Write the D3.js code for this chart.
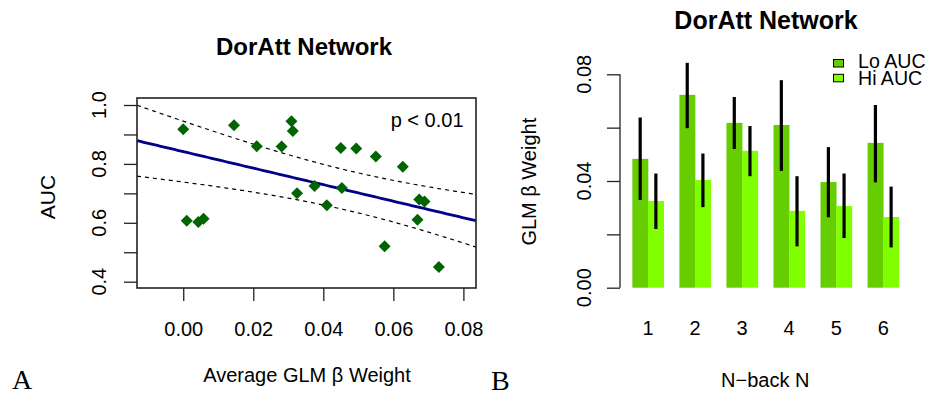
<!DOCTYPE html>
<html>
<head>
<meta charset="utf-8">
<script src="https://cdn.jsdelivr.net/npm/d3@7"></script>
<style>
  html, body { margin: 0; padding: 0; background: #fff; }
  svg { display: block; }
  text { font-family: "Liberation Sans", Arial, Helvetica, sans-serif; fill: #000; }
  .serif { font-family: "Liberation Serif", "Times New Roman", serif; }
</style>
</head>
<body>
<svg id="chart" width="932" height="394"></svg>
<script>
// ---- Panel A: per-subject average GLM beta weight vs AUC ----
const betaWeight = [0.0000, 0.0145, 0.0309, 0.0313, 0.0210, 0.0281, 0.0450, 0.0494, 0.0550, 0.0627,
                    0.0375, 0.0453, 0.0325, 0.0410, 0.0674, 0.0689, 0.0669, 0.0010, 0.0043, 0.0058,
                    0.0575, 0.0730];
const auc = [0.918, 0.931, 0.945, 0.912, 0.860, 0.859, 0.854, 0.852, 0.825, 0.790,
             0.725, 0.718, 0.700, 0.660, 0.679, 0.672, 0.610, 0.607, 0.603, 0.614,
             0.520, 0.450];
// fitted regression line: [intercept, slope]
const fitCoef = [0.8418, -2.808];
// 95% confidence band half-width: sqrt(a + b * (x - center)^2) as [a, b, center]
const bandCoef = [0.0046, 2.665, 0.0478];
const xTicksA = [0.00, 0.02, 0.04, 0.06, 0.08];
const yTicksA = [0.4, 0.5, 0.6, 0.7, 0.8, 0.9, 1.0];
const yLabelsA = [0.4, 0.6, 0.8, 1.0];
const pLabel = "p < 0.01";

// ---- Panel B: mean GLM beta weight per N-back level, by AUC group ----
const nBack = ["1", "2", "3", "4", "5", "6"];
const groups = ["Lo AUC", "Hi AUC"];
const loMean = [0.0483, 0.0723, 0.0618, 0.0610, 0.0396, 0.0543];
const loLow  = [0.0329, 0.0598, 0.0520, 0.0438, 0.0264, 0.0395];
const loHigh = [0.0638, 0.0843, 0.0715, 0.0778, 0.0527, 0.0685];
const hiMean = [0.0325, 0.0404, 0.0513, 0.0288, 0.0306, 0.0265];
const hiLow  = [0.0220, 0.0302, 0.0418, 0.0155, 0.0186, 0.0151];
const hiHigh = [0.0428, 0.0503, 0.0606, 0.0418, 0.0428, 0.0379];
const yTicksB = [0.00, 0.02, 0.04, 0.06, 0.08];
const yLabelsB = [0.00, 0.04, 0.08];
const groupColors = ["#66CD00", "#7FFF00"];

const svg = d3.select("#chart");
const fmt2 = d3.format(".2f"), fmt1 = d3.format(".1f");

// ================= Panel A =================
const xA = d3.scaleLinear().domain([-0.0132, 0.0836]).range([137, 476]);
const yA = d3.scaleLinear().domain([0.3786, 1.0238]).range([288, 98]);
const gA = svg.append("g");

const fit = v => fitCoef[0] + fitCoef[1] * v;
const half = v => Math.sqrt(bandCoef[0] + bandCoef[1] * (v - bandCoef[2]) ** 2);
const xs = d3.range(0, 101).map(i => xA.domain()[0] + (xA.domain()[1] - xA.domain()[0]) * i / 100);

gA.append("clipPath").attr("id", "clipA").append("rect")
  .attr("x", 137).attr("y", 98).attr("width", 339).attr("height", 190);
const inner = gA.append("g").attr("clip-path", "url(#clipA)");
const lineA = d3.line().x(d => xA(d[0])).y(d => yA(d[1]));

[v => fit(v) + half(v), v => fit(v) - half(v)].forEach(f => {
  inner.append("path").datum(xs.map(v => [v, f(v)])).attr("d", lineA)
    .attr("fill", "none").attr("stroke", "#000").attr("stroke-width", 1.2)
    .attr("stroke-dasharray", "4,4");
});
inner.append("path").datum(xs.map(v => [v, fit(v)])).attr("d", lineA)
  .attr("fill", "none").attr("stroke", "#00008B").attr("stroke-width", 2.8);

inner.selectAll("path.pt").data(betaWeight.map((v, i) => [v, auc[i]])).join("path")
  .attr("class", "pt")
  .attr("d", d3.symbol(d3.symbolSquare, 72))
  .attr("transform", d => `translate(${xA(d[0])},${yA(d[1])}) rotate(45)`)
  .attr("fill", "#006400");

gA.append("rect").attr("x", 137).attr("y", 98).attr("width", 339).attr("height", 190)
  .attr("fill", "none").attr("stroke", "#222").attr("stroke-width", 1.6);

// axes
const axBA = gA.append("g").attr("transform", "translate(0,288)")
  .call(d3.axisBottom(xA).tickValues(xTicksA).tickSize(13).tickPadding(22).tickFormat(fmt2));
axBA.select(".domain").remove();
axBA.selectAll("line").attr("stroke", "#222").attr("stroke-width", 1.3);
axBA.selectAll("text").attr("font-size", 20).attr("font-family", "Liberation Sans, Arial, sans-serif")
  .attr("dy", null).attr("y", 47.5);

const axLA = gA.append("g").attr("transform", "translate(137,0)")
  .call(d3.axisLeft(yA).tickValues(yTicksA).tickSize(13).tickFormat(() => ""));
axLA.select(".domain").remove();
axLA.selectAll("line").attr("stroke", "#222").attr("stroke-width", 1.3);
gA.selectAll("text.ylabA").data(yLabelsA).join("text").attr("class", "ylabA")
  .attr("transform", d => `translate(105.5,${yA(d)}) rotate(-90)`)
  .attr("text-anchor", "middle").attr("font-size", 20).text(fmt1);

gA.append("text").attr("x", 463.5).attr("y", 126.7).attr("text-anchor", "end")
  .attr("font-size", 20).text(pLabel);
gA.append("text").attr("x", 304).attr("y", 55).attr("text-anchor", "middle")
  .attr("font-size", 24).attr("font-weight", "bold").text("DorAtt Network");
gA.append("text").attr("x", 307).attr("y", 381.7).attr("text-anchor", "middle")
  .attr("font-size", 20).text("Average GLM β Weight");
gA.append("text").attr("transform", "translate(55,197) rotate(-90)").attr("text-anchor", "middle")
  .attr("font-size", 21).text("AUC");
gA.append("text").attr("class", "serif").attr("x", 12).attr("y", 389).attr("font-size", 28).text("A");

// ================= Panel B =================
const gB = svg.append("g");
const yB = d3.scaleLinear().domain([0, 0.08]).range([287.7, 74.3]);
const xB = d3.scaleBand().domain(nBack).range([624.5, 906.8]).paddingInner(1 / 3).paddingOuter(1 / 6);
const xSub = d3.scaleBand().domain(groups).range([0, xB.bandwidth()]);

const barRows = nBack.flatMap((k, i) => [
  { k, g: groups[0], m: loMean[i], lo: loLow[i], hi: loHigh[i], c: groupColors[0] },
  { k, g: groups[1], m: hiMean[i], lo: hiLow[i], hi: hiHigh[i], c: groupColors[1] }
]);

gB.selectAll("rect.bar").data(barRows).join("rect").attr("class", "bar")
  .attr("x", d => xB(d.k) + xSub(d.g)).attr("width", xSub.bandwidth() + 0.3)
  .attr("y", d => yB(d.m)).attr("height", d => yB(0) - yB(d.m))
  .attr("fill", d => d.c);

gB.selectAll("line.err").data(barRows).join("line").attr("class", "err")
  .attr("x1", d => xB(d.k) + xSub(d.g) + xSub.bandwidth() / 2)
  .attr("x2", d => xB(d.k) + xSub(d.g) + xSub.bandwidth() / 2)
  .attr("y1", d => yB(d.lo)).attr("y2", d => yB(d.hi))
  .attr("stroke", "#000").attr("stroke-width", 3.2);

const axLB = gB.append("g").attr("transform", "translate(620,0)")
  .call(d3.axisLeft(yB).tickValues(yTicksB).tickSize(13).tickFormat(() => ""));
axLB.select(".domain").attr("d", `M0,${yB(0)}V${yB(0.08)}`).attr("stroke", "#222").attr("stroke-width", 1.3);
axLB.selectAll("line").attr("stroke", "#222").attr("stroke-width", 1.3);
gB.selectAll("text.ylabB").data(yLabelsB).join("text").attr("class", "ylabB")
  .attr("transform", d => `translate(590.5,${yB(d)}) rotate(-90)`)
  .attr("text-anchor", "middle").attr("font-size", 20).text(fmt2);

gB.selectAll("text.xlabB").data(nBack).join("text").attr("class", "xlabB")
  .attr("x", d => xB(d) + xB.bandwidth() / 2).attr("y", 335).attr("text-anchor", "middle")
  .attr("font-size", 20).text(d => d);

gB.append("text").attr("x", 766).attr("y", 29).attr("text-anchor", "middle")
  .attr("font-size", 25).attr("font-weight", "bold").text("DorAtt Network");
gB.append("text").attr("x", 765.3).attr("y", 387.3).attr("text-anchor", "middle")
  .attr("font-size", 20).text("N\u2212back N");
gB.append("text").attr("transform", "translate(535.5,181.7) rotate(-90)").attr("text-anchor", "middle")
  .attr("font-size", 20).text("GLM β Weight");
gB.append("text").attr("class", "serif").attr("x", 491).attr("y", 389.5).attr("font-size", 28).text("B");

// legend
const leg = gB.selectAll("g.leg").data(groups).join("g").attr("class", "leg");
leg.append("rect").attr("x", 833.5).attr("y", (d, i) => 59.5 + i * 14.8)
  .attr("width", 10).attr("height", 7.5)
  .attr("fill", (d, i) => groupColors[i]).attr("stroke", "#000").attr("stroke-width", 1);
leg.append("text").attr("x", 858).attr("y", (d, i) => 68.3 + i * 16.7)
  .attr("font-size", 19.6).text(d => d);
</script>
</body>
</html>
